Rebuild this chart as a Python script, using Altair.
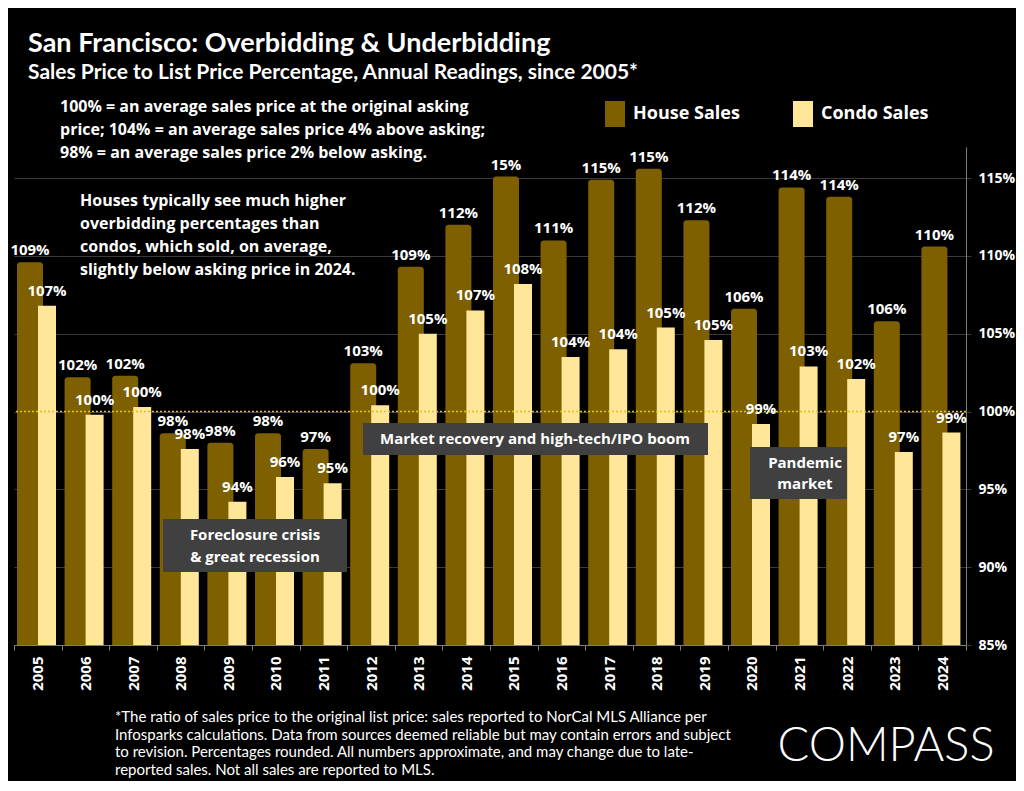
import altair as alt
import pandas as pd

years = [str(y) for y in range(2005, 2025)]
house = [109.6, 102.2, 102.3, 98.6, 98.0, 98.6, 97.6, 103.1, 109.3, 112.0,
         115.1, 111.0, 114.9, 115.6, 112.3, 106.6, 114.4, 113.8, 105.8, 110.6]
condo = [106.8, 99.8, 100.3, 97.6, 94.2, 95.8, 95.4, 100.4, 105.0, 106.5,
         108.2, 103.5, 104.0, 105.4, 104.6, 99.2, 102.9, 102.1, 97.4, 98.65]
house_labels = ["109%", "102%", "102%", "98%", "98%", "98%", "97%", "103%", "109%", "112%",
                "15%", "111%", "115%", "115%", "112%", "106%", "114%", "114%", "106%", "110%"]
condo_labels = ["107%", "100%", "100%", "98%", "94%", "96%", "95%", "100%", "105%", "107%",
                "108%", "104%", "104%", "105%", "105%", "99%", "103%", "102%", "97%", "99%"]
series_names = ["House Sales", "Condo Sales"]
y_ticks = [85, 90, 95, 100, 105, 110, 115]

df = pd.DataFrame({
    "year": years * 2,
    "series": [series_names[0]] * len(years) + [series_names[1]] * len(years),
    "value": house + condo,
    "label": house_labels + condo_labels,
})
one = pd.DataFrame({"a": [0]})

HOUSE = "#7f6000"
CONDO = "#ffe699"
FONT = "Open Sans"
TFONT = "Lato"
BOX = "#404040"

x = alt.X("year:O", title=None,
          scale=alt.Scale(paddingInner=0, paddingOuter=0),
          axis=alt.Axis(tickBand="extent", labelAngle=-90, labelFont=FONT,
                        labelFontWeight="bold", labelFontSize=15, labelColor="white",
                        tickColor="#7f7f7f", tickSize=5, domainColor="#7f7f7f",
                        labelPadding=6, grid=False))
y = alt.Y("value:Q", title=None,
          scale=alt.Scale(domain=[85, 117], zero=False, nice=False),
          axis=alt.Axis(orient="right", values=y_ticks, labelExpr="datum.value + '%'",
                        grid=True, gridColor="#3a3a3a", gridWidth=1,
                        tickColor="#3a3a3a", tickSize=5, domainColor="#7f7f7f",
                        labelFont=FONT, labelFontWeight="bold", labelFontSize=14,
                        labelColor="white", labelPadding=7))
color = alt.Color("series:N",
                  scale=alt.Scale(domain=series_names, range=[HOUSE, CONDO]),
                  legend=alt.Legend(orient="none", legendX=588, legendY=-46,
                                    direction="horizontal", title=None,
                                    symbolType="M-0.77,-1H0.77V1H-0.77Z", symbolSize=676,
                                    symbolStrokeWidth=0, symbolOpacity=1,
                                    labelFont=FONT, labelFontSize=18, labelFontWeight="bold",
                                    labelColor="white", labelOffset=5, columnPadding=50,
                                    padding=0))

base = alt.Chart(df)
house_df = base.transform_filter(alt.datum.series == series_names[0])
condo_df = base.transform_filter(alt.datum.series == series_names[1])

house_bars = house_df.mark_bar(width=26, xOffset=-7.8, cornerRadiusTopLeft=3,
                               cornerRadiusTopRight=3).encode(
    x=x, y=y, y2=alt.datum(85), color=color)
condo_bars = condo_df.mark_bar(width=18, xOffset=9.2).encode(
    x=x, y=y, y2=alt.datum(85), color=color)

ref_line = alt.Chart(one).mark_rule(color="#e0c800", strokeDash=[2, 2], strokeWidth=1.4).encode(
    y=alt.datum(100))

house_text = house_df.mark_text(xOffset=-7.8, dy=-7, baseline="alphabetic", font=FONT,
                                fontSize=15, fontWeight="bold", color="white").encode(
    x=x, y=y, text="label:N")
condo_text = condo_df.mark_text(xOffset=9.2, dy=-10, baseline="alphabetic", font=FONT,
                                fontSize=15, fontWeight="bold", color="white").encode(
    x=x, y=y, text="label:N")


def box(x1, x2, y1, y2):
    return alt.Chart(one).mark_rect(color=BOX).encode(
        x=alt.value(x1), x2=alt.value(x2), y=alt.value(y1), y2=alt.value(y2))


def txt(tx, ty, lines, size=15, font=FONT, weight="bold", align="center", lh=22, col="white"):
    return alt.Chart(one).mark_text(align=align, baseline="middle", font=font, fontSize=size,
                                    fontWeight=weight, color=col, lineHeight=lh).encode(
        x=alt.value(tx), y=alt.value(ty), text=alt.value(lines))


layers = [
    house_bars, condo_bars, ref_line, house_text, condo_text,
    box(149, 333, 372, 425), txt(241, 388, ["Foreclosure crisis", "& great recession"]),
    box(349, 694, 276, 308), txt(521, 292, "Market recovery and high-tech/IPO boom"),
    box(736, 833, 300, 352), txt(791, 316, ["Pandemic", "market"], lh=21),
    txt(46, -40, ["100% = an average sales price at the original asking",
                  "price; 104% = an average sales price 4% above asking;",
                  "98% = an average sales price 2% below asking."],
        size=16, align="left", lh=23),
    txt(66, 54, ["Houses typically see much higher",
                 "overbidding percentages than",
                 "condos, which sold, on average,",
                 "slightly below asking price in 2024."],
        size=16, align="left", lh=23),
    txt(14, -103, "San Francisco: Overbidding & Underbidding", size=27, font=TFONT, align="left"),
    txt(14, -74, "Sales Price to List Price Percentage, Annual Readings, since 2005*",
        size=21, font=TFONT, align="left"),
    txt(101, 570, ["*The ratio of sales price to the original list price: sales reported to NorCal MLS Alliance per",
                   "Infosparks calculations. Data from sources deemed reliable but may contain errors and subject",
                   "to revision. Percentages rounded. All numbers approximate, and may change due to late-",
                   "reported sales. Not all sales are reported to MLS."],
        size=15, font=TFONT, weight="normal", align="left", lh=17.7),
    txt(872, 600, "COMPASS", size=47, font=TFONT, weight=300),
]

chart = alt.layer(*layers).properties(
    width=952, height=498,
    autosize=alt.AutoSizeParams(type="none"),
    padding={"left": 6, "top": 139, "right": 50, "bottom": 136},
).configure(background="#000000").configure_view(stroke=None)

chart.save("out.html", embed_options={"renderer": "svg", "actions": False})
